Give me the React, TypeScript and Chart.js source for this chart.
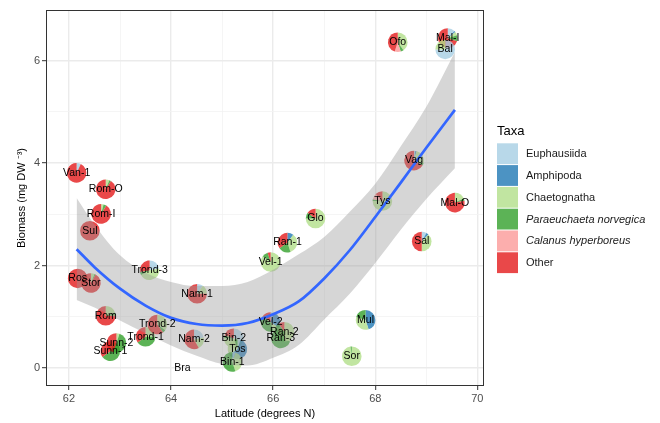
import { useEffect, useRef } from 'react';
import { Chart, registerables } from 'chart.js';

Chart.register(...registerables);

const FONT = '"Liberation Sans", Arial, Helvetica, sans-serif';

// Sites
const siteLabels = ['Van-1', 'Rom-O', 'Rom-I', 'Sul', 'Ros', 'Stor', 'Rom', 'Sunn-1', 'Sunn-2', 'Trond-1', 'Trond-2', 'Trond-3', 'Nam-1', 'Nam-2', 'Bra', 'Bin-2', 'Tos', 'Bin-1', 'Vel-1', 'Vel-2', 'Ran-1', 'Ran-3', 'Ran-2', 'Glo', 'Mul', 'Sor', 'Tys', 'Vag', 'Sal', 'Mal-O', 'Ofo', 'Mal-I', 'Bal'];
const latitudes = [62.15, 62.72, 62.63, 62.41, 62.17, 62.43, 62.72, 62.81, 62.93, 63.50, 63.73, 63.58, 64.51, 64.45, 64.22, 65.23, 65.30, 65.20, 65.95, 65.95, 66.28, 66.15, 66.22, 66.83, 67.81, 67.54, 68.14, 68.76, 68.91, 69.56, 68.44, 69.42, 69.37];
const biomass = [3.81, 3.49, 3.01, 2.68, 1.75, 1.66, 1.02, 0.33, 0.49, 0.61, 0.85, 1.91, 1.45, 0.56, 0.0, 0.58, 0.37, 0.12, 2.07, 0.90, 2.45, 0.58, 0.71, 2.92, 0.94, 0.23, 3.26, 4.05, 2.47, 3.23, 6.36, 6.44, 6.22];

// Taxa fractions per site (same order as siteLabels)
const euphausiida = [0.07, 0, 0, 0, 0, 0, 0, 0, 0, 0, 0, 0.22, 0.1, 0.22, 0, 0.3, 0.05, 0.05, 0, 0.05, 0, 0, 0, 0, 0, 0, 0, 0.02, 0.08, 0, 0, 0.12, 0.75];
const amphipoda = [0, 0, 0, 0, 0, 0, 0, 0, 0, 0, 0, 0, 0, 0, 0, 0, 0.6, 0, 0, 0.3, 0.1, 0, 0, 0, 0.45, 0, 0, 0.02, 0.04, 0, 0, 0.02, 0];
const chaetognatha = [0, 0.06, 0.04, 0, 0, 0.06, 0.2, 0.05, 0.05, 0.25, 0.35, 0.45, 0.15, 0.2, 0, 0.45, 0.3, 0.4, 0.85, 0.1, 0.35, 0.3, 0.5, 0.75, 0.35, 0.98, 0.75, 0.25, 0.38, 0.18, 0.4, 0.06, 0.25];
const paraeuchaeta = [0, 0.03, 0.05, 0, 0, 0.02, 0.05, 0.6, 0.5, 0.4, 0.05, 0.05, 0, 0, 0, 0.05, 0.05, 0.55, 0.1, 0.4, 0.2, 0.65, 0.4, 0.1, 0.2, 0.02, 0.03, 0.04, 0, 0.04, 0.05, 0.1, 0];
const calanus = [0, 0, 0, 0, 0, 0, 0, 0, 0, 0, 0, 0, 0, 0, 0, 0, 0, 0, 0, 0, 0, 0, 0, 0, 0, 0, 0.1, 0, 0, 0, 0.1, 0, 0];
const other = [0.93, 0.91, 0.91, 1, 1, 0.92, 0.75, 0.35, 0.45, 0.35, 0.6, 0.28, 0.75, 0.58, 0, 0.2, 0, 0, 0.05, 0.15, 0.35, 0.05, 0.1, 0.15, 0, 0, 0.12, 0.67, 0.5, 0.78, 0.45, 0.7, 0];

const taxaNames = ['Euphausiida', 'Amphipoda', 'Chaetognatha', 'Paraeuchaeta norvegica', 'Calanus hyperboreus', 'Other'];
const taxaItalic = [false, false, false, true, true, false];
const taxaColors = ['rgba(166,206,227,0.8)', 'rgba(31,120,180,0.8)', 'rgba(178,223,138,0.8)', 'rgba(51,160,44,0.8)', 'rgba(251,154,153,0.8)', 'rgba(227,26,28,0.8)'];
const taxaValues = [euphausiida, amphipoda, chaetognatha, paraeuchaeta, calanus, other];

// Loess smooth with confidence band
const smoothLat = [62.15, 62.5, 63.0, 63.5, 64.0, 64.5, 65.0, 65.5, 66.0, 66.5, 67.0, 67.5, 68.0, 68.5, 69.0, 69.56];
const smoothFit = [2.32, 1.97, 1.55, 1.22, 0.98, 0.86, 0.83, 0.88, 1.05, 1.3, 1.75, 2.3, 2.95, 3.62, 4.3, 5.04];
const smoothUpper = [3.32, 2.8, 2.2, 1.86, 1.68, 1.6, 1.6, 1.68, 1.92, 2.22, 2.56, 3.05, 3.6, 4.33, 5.1, 6.17];
const smoothLower = [1.33, 1.18, 0.93, 0.68, 0.44, 0.24, 0.08, 0.05, 0.2, 0.45, 0.95, 1.45, 2.05, 2.7, 3.3, 3.9];

const xTicks = [62, 63, 64, 65, 66, 67, 68, 69, 70];
const yTicks = [0, 1, 2, 3, 4, 5, 6];
const xMajor = [62, 64, 66, 68, 70];
const yMajor = [0, 2, 4, 6];

const xTitle = 'Latitude (degrees N)';
const yTitle = 'Biomass (mg DW \u207B\u00B3)';
const legendTitle = 'Taxa';

const PIE_R = 9.8;

const piePlugin = {
  id: 'piePlugin',
  beforeDatasetsDraw(chart: any) {
    const { ctx, chartArea } = chart;
    const xs = chart.scales.x;
    const ys = chart.scales.y;
    ctx.save();
    ctx.beginPath();
    ctx.rect(chartArea.left, chartArea.top, chartArea.right - chartArea.left, chartArea.bottom - chartArea.top);
    ctx.clip();
    for (let i = 0; i < siteLabels.length; i++) {
      const cx = xs.getPixelForValue(latitudes[i]);
      const cy = ys.getPixelForValue(biomass[i]);
      const fr = taxaValues.map((arr) => arr[i]);
      const total = fr.reduce((a, b) => a + b, 0);
      if (total <= 0) continue;
      let a = -Math.PI / 2;
      for (let k = 0; k < fr.length; k++) {
        if (fr[k] <= 0) continue;
        const da = (fr[k] / total) * Math.PI * 2;
        ctx.beginPath();
        ctx.moveTo(cx, cy);
        ctx.arc(cx, cy, PIE_R, a, a + da);
        ctx.closePath();
        ctx.fillStyle = taxaColors[k];
        ctx.fill();
        a += da;
      }
    }
    ctx.restore();
  },
  afterDatasetsDraw(chart: any) {
    const { ctx, chartArea } = chart;
    const xs = chart.scales.x;
    const ys = chart.scales.y;
    ctx.save();
    ctx.font = `10.5px ${FONT}`;
    ctx.fillStyle = '#000';
    ctx.textAlign = 'center';
    ctx.textBaseline = 'middle';
    for (let i = 0; i < siteLabels.length; i++) {
      ctx.fillText(siteLabels[i], xs.getPixelForValue(latitudes[i]), ys.getPixelForValue(biomass[i]));
    }
    // panel border
    ctx.strokeStyle = '#333333';
    ctx.lineWidth = 1;
    ctx.strokeRect(chartArea.left + 0.5, chartArea.top + 0.5, chartArea.right - chartArea.left - 1, chartArea.bottom - chartArea.top - 1);
    ctx.restore();
  },
  afterDraw(chart: any) {
    const { ctx, chartArea } = chart;
    ctx.save();
    // axis titles
    ctx.fillStyle = '#000';
    ctx.font = `11px ${FONT}`;
    ctx.textAlign = 'center';
    ctx.textBaseline = 'middle';
    ctx.fillText(xTitle, (chartArea.left + chartArea.right) / 2, 414);
    ctx.save();
    ctx.translate(22, (chartArea.top + chartArea.bottom) / 2);
    ctx.rotate(-Math.PI / 2);
    ctx.fillText(yTitle, 0, 0);
    ctx.restore();
    // legend
    ctx.textAlign = 'left';
    ctx.font = `13px ${FONT}`;
    ctx.fillText(legendTitle, 497, 131);
    const keyX = 497;
    const keyW = 21;
    const keyTop = 143.3;
    const keyH = 21.8;
    for (let k = 0; k < taxaNames.length; k++) {
      const y0 = keyTop + k * keyH;
      ctx.fillStyle = taxaColors[k];
      ctx.fillRect(keyX, y0, keyW, keyH - 1);
      ctx.fillStyle = '#1a1a1a';
      ctx.font = `${taxaItalic[k] ? 'italic ' : ''}11px ${FONT}`;
      ctx.fillText(taxaNames[k], 526, y0 + keyH / 2);
    }
    ctx.restore();
  },
};

export default function App() {
  const ref = useRef<HTMLCanvasElement>(null);
  useEffect(() => {
    document.body.style.margin = '0';
    if (!ref.current) return;
    const chart = new Chart(ref.current, {
      type: 'line',
      data: {
        datasets: [
          {
            data: smoothLat.map((x, i) => ({ x, y: smoothFit[i] })),
            borderColor: '#3366FF',
            borderWidth: 2.7,
            pointRadius: 0,
            fill: false,
            cubicInterpolationMode: 'monotone',
          },
          {
            data: smoothLat.map((x, i) => ({ x, y: smoothUpper[i] })),
            borderColor: 'transparent',
            borderWidth: 0,
            pointRadius: 0,
            fill: '+1',
            backgroundColor: 'rgba(153,153,153,0.4)',
            cubicInterpolationMode: 'monotone',
          },
          {
            data: smoothLat.map((x, i) => ({ x, y: smoothLower[i] })),
            borderColor: 'transparent',
            borderWidth: 0,
            pointRadius: 0,
            fill: false,
            cubicInterpolationMode: 'monotone',
          },
        ],
      },
      options: {
        responsive: false,
        animation: false,
        devicePixelRatio: 1,
        layout: { padding: { top: 10, right: 176, left: 0, bottom: 0 } },
        plugins: {
          legend: { display: false },
          tooltip: { enabled: false },
        },
        scales: {
          x: {
            type: 'linear',
            min: 61.55,
            max: 70.13,
            afterBuildTicks: (scale: any) => {
              scale.ticks = xTicks.map((v) => ({ value: v }));
            },
            afterFit: (scale: any) => {
              scale.height = 37;
            },
            border: { display: false },
            grid: {
              color: (c: any) => (xMajor.includes(c.tick?.value) ? '#ebebeb' : '#f3f3f3'),
              lineWidth: (c: any) => (xMajor.includes(c.tick?.value) ? 1.4 : 0.8),
              tickColor: (c: any) => (xMajor.includes(c.tick?.value) ? '#333333' : 'rgba(0,0,0,0)'),
              tickLength: 4,
              tickWidth: 1,
            },
            ticks: {
              autoSkip: false,
              maxRotation: 0,
              padding: 2,
              color: '#4d4d4d',
              font: { family: FONT, size: 11 },
              callback: (v: any) => (xMajor.includes(v) ? String(v) : ''),
            },
          },
          y: {
            type: 'linear',
            min: -0.35,
            max: 6.99,
            afterBuildTicks: (scale: any) => {
              scale.ticks = yTicks.map((v) => ({ value: v }));
            },
            afterFit: (scale: any) => {
              scale.width = 46;
            },
            border: { display: false },
            grid: {
              color: (c: any) => (yMajor.includes(c.tick?.value) ? '#ebebeb' : '#f3f3f3'),
              lineWidth: (c: any) => (yMajor.includes(c.tick?.value) ? 1.4 : 0.8),
              tickColor: (c: any) => (yMajor.includes(c.tick?.value) ? '#333333' : 'rgba(0,0,0,0)'),
              tickLength: 4,
              tickWidth: 1,
            },
            ticks: {
              autoSkip: false,
              padding: 2,
              color: '#4d4d4d',
              font: { family: FONT, size: 11 },
              callback: (v: any) => (yMajor.includes(v) ? String(v) : ''),
            },
          },
        },
      },
      plugins: [piePlugin],
    } as any);
    return () => chart.destroy();
  }, []);
  return (
    <div style={{ width: 660, height: 423, position: 'relative' }}>
      <canvas ref={ref} width={660} height={423} style={{ display: 'block', position: 'absolute', left: 0, top: 0 }} />
    </div>
  );
}
